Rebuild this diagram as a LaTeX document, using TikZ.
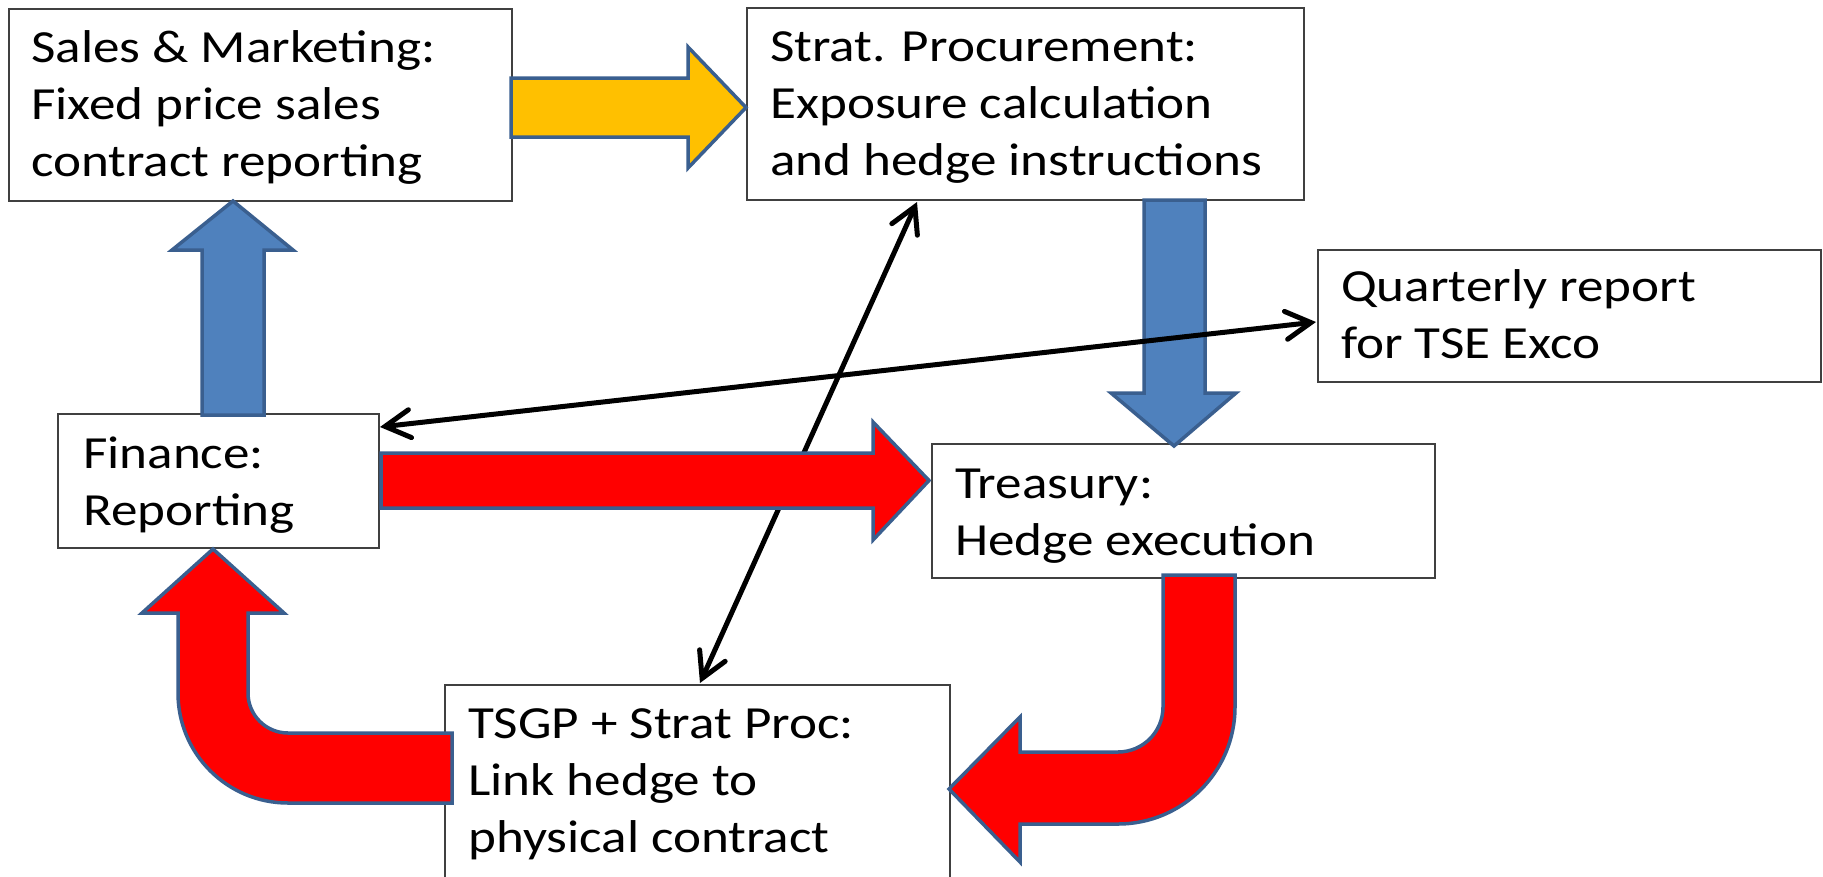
\documentclass[tikz,border=0pt]{standalone}
\usepackage{fontspec}
\setmainfont{Carlito}[FakeStretch=1.155]
\usetikzlibrary{arrows.meta,calc}
\definecolor{bfill}{HTML}{4F81BD}
\definecolor{aline}{HTML}{3A5F8F}
\definecolor{rfill}{HTML}{FF0000}
\definecolor{yfill}{HTML}{FFC000}
\begin{document}
\begin{tikzpicture}[x=1pt,y=-1pt,
  box/.style={draw=black!75, line width=2.5pt, fill=white, rectangle, inner sep=0pt, outer sep=0pt, anchor=north west},
  txt/.style={anchor=base west, align=left, inner sep=0pt, font=\fontsize{46}{57}\selectfont},
  blockarrow/.style={draw=aline, line width=3.5pt, line join=miter},
  link/.style={draw=black, line width=5pt, {Straight Barb[length=25pt,width=28pt,line cap=round]}-{Straight Barb[length=25pt,width=28pt,line cap=round]}}
]
\useasboundingbox (0,0) rectangle (1823,876);
\fill[white] (0,0) rectangle (1823,876);

% boxes
\node[box, minimum width=503pt, minimum height=192pt] (sales) at (9,9) {};
\node[box, minimum width=557pt, minimum height=192pt] (strat) at (747,8) {};
\node[box, minimum width=503pt, minimum height=132pt] (quarterly) at (1318,250) {};
\node[box, minimum width=321pt, minimum height=134pt] (finance) at (58,414) {};
\node[box, minimum width=503pt, minimum height=134pt] (treasury) at (932,444) {};
\node[box, minimum width=505pt, minimum height=200pt] (tsgp) at (445,685) {};

% texts (anchored at the baseline of the last line)
\node[txt] (salesT) at (31,176) {Sales \& Marketing:\\Fixed price sales\\contract reporting};
\node[txt] (stratT) at (770,175) {Strat. Procurement:\\Exposure calculation\\and hedge instructions};
\node[txt] (quarterlyT) at (1341,358) {Quarterly report\\for TSE Exco};
\node[txt] (financeT) at (83,525) {Finance:\\Reporting};
\node[txt] (treasuryT) at (955,555) {Treasury:\\Hedge execution};
\node[txt] (tsgpT) at (468,852) {TSGP + Strat Proc:\\Link hedge to\\physical contract};

% black link strat <-> tsgp (under red arrow)
\draw[link] ($(strat.south west)+(170,2)$) -- ($(tsgp.north west)+(255,-2)$);

% red horizontal arrow finance -> treasury
\path[blockarrow, fill=rfill] (381,453) -- (873,453) -- (873,422) -- (929,480.5) -- (873,540) -- (873,508) -- (381,508) -- cycle;

% blue up arrow finance -> sales
\path[blockarrow, fill=bfill] (202,415) -- (202,250) -- (172,250) -- (233,201) -- (293,250) -- (264,250) -- (264,415) -- cycle;

% blue down arrow strat -> treasury
\path[blockarrow, fill=bfill] (1144,200) -- (1144,393) -- (1111,393) -- (1174,446) -- (1236,393) -- (1205,393) -- (1205,200) -- cycle;

% yellow arrow sales -> strat
\path[blockarrow, fill=yfill] (511,78) -- (688,78) -- (688,47) -- (746,107.5) -- (688,168) -- (688,137) -- (511,137) -- cycle;

% red bent arrow treasury -> tsgp
\path[blockarrow, fill=rfill] (1163,575) -- (1163,707)
  .. controls (1163,731.9) and (1142.9,752) .. (1118,752)
  -- (1020,752) -- (1020,717) -- (949,789) -- (1020,862) -- (1020,824) -- (1118,824)
  .. controls (1182.6,824) and (1235,771.6) .. (1235,707)
  -- (1235,575) -- cycle;

% red bent arrow tsgp -> finance
\path[blockarrow, fill=rfill] (452,733) -- (288,733)
  .. controls (265.9,733) and (248,715.1) .. (248,693)
  -- (248,613) -- (284,613) -- (213,549) -- (142,613) -- (178,613) -- (178,693)
  .. controls (178,753.75) and (227.25,803) .. (288,803)
  -- (452,803) -- cycle;

% black link finance <-> quarterly
\draw[link] ($(finance.north east)+(1,13)$) -- ($(quarterly.west)+(-2,6)$);
\end{tikzpicture}
\end{document}
